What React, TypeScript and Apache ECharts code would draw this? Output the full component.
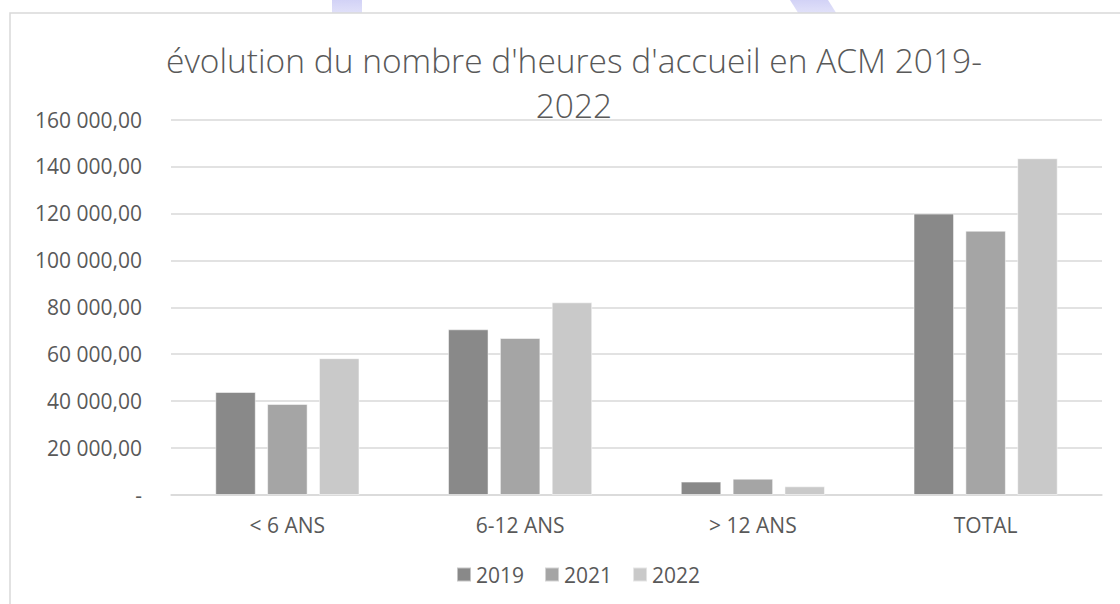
import React, { useEffect, useRef } from "react";
import * as echarts from "echarts";

const categories = ["< 6 ANS", "6-12 ANS", "> 12 ANS", "TOTAL"];
const seriesNames = ["2019", "2021", "2022"];
const values2019 = [43900, 70600, 5700, 119900];
const values2021 = [38800, 66900, 6950, 112600];
const values2022 = [58300, 82100, 3700, 143500];
const yTickLabels = [
  "-",
  "20 000,00",
  "40 000,00",
  "60 000,00",
  "80 000,00",
  "100 000,00",
  "120 000,00",
  "140 000,00",
  "160 000,00",
];
const titleText = "évolution du nombre d'heures d'accueil en ACM 2019-\n2022";

const colors = ["#898989", "#a5a5a5", "#c9c9c9"];
const FONT = "'Open Sans', 'Noto Sans', sans-serif";

export default function App() {
  const ref = useRef<HTMLDivElement>(null);
  useEffect(() => {
    if (!ref.current) return;
    const chart = echarts.init(ref.current, undefined, { renderer: "svg" });
    const data = [values2019, values2021, values2022];
    chart.setOption({
      animation: false,
      backgroundColor: "#ffffff",
      textStyle: { fontFamily: FONT },
      title: {
        text: titleText,
        left: 574,
        top: 37,
        textAlign: "center",
        padding: 0,
        textStyle: {
          fontFamily: FONT,
          fontSize: 33.5,
          fontWeight: 300,
          color: "#595959",
          lineHeight: 45,
          align: "center",
        },
      },
      legend: {
        data: seriesNames,
        left: 456,
        top: 564,
        padding: 0,
        itemWidth: 14,
        itemHeight: 14,
        itemGap: 20,
        icon: "rect",
        textStyle: { fontFamily: FONT, fontSize: 21, color: "#595959", padding: [0, 0, 0, 0] },
      },
      grid: { left: 171, right: 18, top: 119.5, bottom: 109, containLabel: false },
      xAxis: {
        type: "category",
        data: categories,
        axisLine: { lineStyle: { color: "#d9d9d9", width: 1.5 } },
        axisTick: { show: false },
        axisLabel: { fontFamily: FONT, fontSize: 21, color: "#595959", margin: 19 },
      },
      yAxis: {
        type: "value",
        min: 0,
        max: 160000,
        interval: 20000,
        axisLine: { show: false },
        axisTick: { show: false },
        splitLine: { lineStyle: { color: "#d9d9d9", width: 1.5 } },
        axisLabel: {
          fontFamily: FONT,
          fontSize: 21,
          color: "#595959",
          margin: 29,
          formatter: (v: number) => yTickLabels[Math.round(v / 20000)] ?? "",
        },
      },
      series: seriesNames.map((name, i) => ({
        name,
        type: "bar",
        data: data[i],
        barWidth: 40.5,
        barGap: "28%",
        itemStyle: { color: colors[i], borderColor: "rgba(255,255,255,0.5)", borderWidth: 1 },
      })),
      graphic: [
        {
          type: "polygon",
          z: -1,
          shape: { points: [[332, 0], [362, 0], [362, 40], [332, 40]] },
          style: {
            fill: new echarts.graphic.LinearGradient(0, 0, 0, 1, [
              { offset: 0, color: "rgba(205,205,245,0.9)" },
              { offset: 1, color: "rgba(205,205,245,0)" },
            ]),
          },
        },
        {
          type: "polygon",
          z: -1,
          shape: { points: [[790, 0], [828, 0], [852, 38], [814, 38]] },
          style: {
            fill: new echarts.graphic.LinearGradient(0, 0, 0, 1, [
              { offset: 0, color: "rgba(205,205,245,0.9)" },
              { offset: 1, color: "rgba(205,205,245,0)" },
            ]),
          },
        },
        {
          type: "rect",
          z: 0,
          shape: { x: 10, y: 13, width: 1300, height: 800 },
          style: { fill: "#ffffff", stroke: "#d9d9d9", lineWidth: 1.5 },
        },
      ],
    });
    return () => chart.dispose();
  }, []);
  return (
    <div
      ref={ref}
      style={{ position: "absolute", left: 0, top: 0, width: 1120, height: 604 }}
    />
  );
}
